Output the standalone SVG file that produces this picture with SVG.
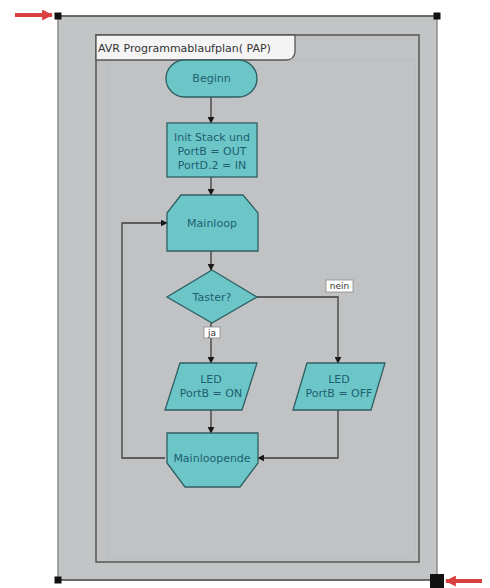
<svg xmlns="http://www.w3.org/2000/svg" width="490" height="588" viewBox="0 0 490 588">
<style>
.node{fill:#6cc6c8;stroke:#2f5f62;stroke-width:1.3}
.t{font-family:"DejaVu Sans",Verdana,sans-serif;font-size:11px;fill:#1e5f70;text-anchor:middle}
.c{fill:none;stroke:#3c3c3c;stroke-width:1.3}
.lbl{fill:#ffffff;stroke:#8a8a8a;stroke-width:0.8}
.lt{font-family:"DejaVu Sans",Verdana,sans-serif;font-size:9px;fill:#333;text-anchor:middle}
.h{fill:#111}
</style>
<defs>
<marker id="ah" viewBox="0 0 10 10" refX="9" refY="5" markerWidth="7" markerHeight="7" orient="auto" markerUnits="userSpaceOnUse">
<path d="M0,0 L10,5 L0,10 z" fill="#1a1a1a"/>
</marker>
<marker id="red" viewBox="0 0 10 10" refX="9" refY="5" markerWidth="11" markerHeight="11" orient="auto" markerUnits="userSpaceOnUse">
<path d="M0,0 L10,5 L0,10 z" fill="#d94040"/>
</marker>
</defs>
<rect width="490" height="588" fill="#ffffff"/>
<g id="frame">
<rect x="58" y="16" width="379" height="564" fill="#c2c4c6" stroke="#8c8e90" stroke-width="1.5"/>
<line x1="58" y1="16" x2="437" y2="16" stroke="#555" stroke-width="1.5"/>
<line x1="58" y1="580" x2="437" y2="580" stroke="#555" stroke-width="1.5"/>
<rect x="96" y="35" width="323" height="527" fill="#c0c2c4" stroke="#555" stroke-width="1.5"/>
<rect x="107" y="60" width="308" height="498" fill="none" stroke="#b8babc" stroke-width="0.7"/>
<path d="M96,35 L295,35 L295,52 Q294,60 286,60 L96,60 Z" fill="#f4f4f4" stroke="#555" stroke-width="1.3"/>
<text x="98" y="52" font-family="DejaVu Sans,Verdana,sans-serif" font-size="11px" fill="#333">AVR Programmablaufplan( PAP)</text>
<rect x="54.5" y="12.5" width="7" height="7" class="h"/>
<rect x="433.5" y="12.5" width="7" height="7" class="h"/>
<rect x="54.5" y="576.5" width="7" height="7" class="h"/>
<rect x="430" y="574" width="14" height="14" class="h"/>
<line x1="15" y1="15" x2="52" y2="15" stroke="#d94040" stroke-width="4" marker-end="url(#red)"/>
<line x1="482" y1="581" x2="446" y2="581" stroke="#d94040" stroke-width="4" marker-end="url(#red)"/>
</g>
<g id="connectors">
<line class="c" x1="211" y1="97" x2="211" y2="123" marker-end="url(#ah)"/>
<line class="c" x1="211" y1="177" x2="211" y2="195" marker-end="url(#ah)"/>
<line class="c" x1="211" y1="251" x2="211" y2="270" marker-end="url(#ah)"/>
<line class="c" x1="211" y1="323" x2="211" y2="363" marker-end="url(#ah)"/>
<polyline class="c" points="257,297 338,297 338,363" marker-end="url(#ah)"/>
<line class="c" x1="211" y1="410" x2="211" y2="433" marker-end="url(#ah)"/>
<polyline class="c" points="338,410 338,458 258,458" marker-end="url(#ah)"/>
<polyline class="c" points="165,458 122,458 122,223 167,223" marker-end="url(#ah)"/>
<rect class="lbl" x="204" y="327" width="16" height="11"/>
<text class="lt" x="212" y="336">ja</text>
<rect class="lbl" x="326" y="280" width="27" height="12"/>
<text class="lt" x="339.5" y="289">nein</text>
</g>
<g id="beginn">
<rect class="node" x="166" y="60" width="91" height="37" rx="18.5" ry="18.5"/>
<text class="t" x="211.5" y="82">Beginn</text>
</g>
<g id="init">
<rect class="node" x="167" y="123" width="90" height="54"/>
<text class="t" x="212" y="141">Init Stack und</text>
<text class="t" x="212" y="155">PortB = OUT</text>
<text class="t" x="212" y="169">PortD.2 = IN</text>
</g>
<g id="mainloop">
<path class="node" d="M181,195 L243,195 L258,213 L258,251 L167,251 L167,213 Z"/>
<text class="t" x="212" y="227">Mainloop</text>
</g>
<g id="taster">
<path class="node" d="M212,270 L257,297 L212,323 L167,297 Z"/>
<text class="t" x="212" y="301">Taster?</text>
</g>
<g id="led-on">
<path class="node" d="M180,363 L257,363 L242,410 L165,410 Z"/>
<text class="t" x="211" y="383">LED</text>
<text class="t" x="211" y="397">PortB = ON</text>
</g>
<g id="led-off">
<path class="node" d="M307,363 L385,363 L371,410 L293,410 Z"/>
<text class="t" x="339" y="383">LED</text>
<text class="t" x="339" y="397">PortB = OFF</text>
</g>
<g id="mainloopende">
<path class="node" d="M167,433 L258,433 L258,463 L240,487 L185,487 L167,463 Z"/>
<text class="t" x="212" y="462">Mainloopende</text>
</g>
</svg>
